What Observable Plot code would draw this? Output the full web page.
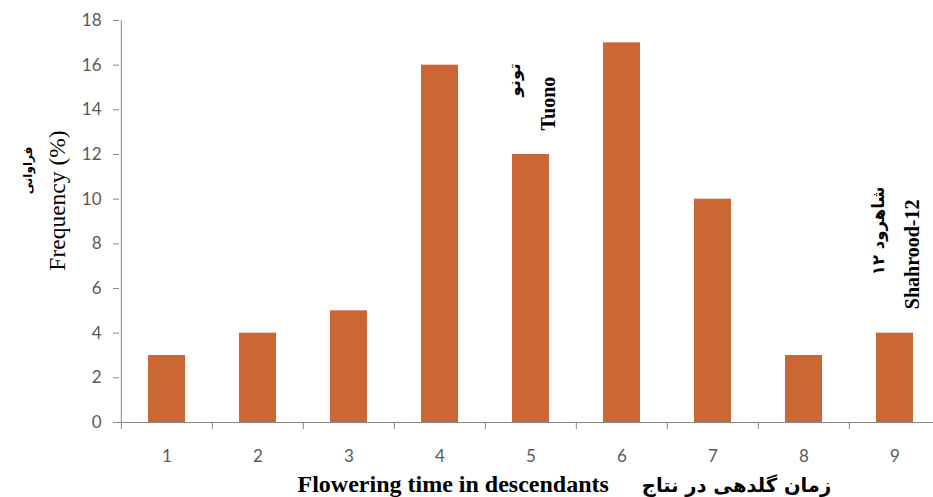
<!DOCTYPE html>
<html>
<head>
<meta charset="utf-8">
<script src="https://cdn.jsdelivr.net/npm/d3@7"></script>
<script src="https://cdn.jsdelivr.net/npm/@observablehq/plot@0.6"></script>
<style>
  html, body { margin: 0; padding: 0; background: #fff; overflow: hidden; }
  #chart { width: 933px; height: 497px; overflow: hidden; }
  #chart svg { max-width: none !important; width: 941px !important; height: 497px !important; }
</style>
</head>
<body>
<div id="chart"></div>
<script>
// ---- data ----
const categories = [1, 2, 3, 4, 5, 6, 7, 8, 9];
const frequency = [3, 4, 5, 16, 12, 17, 10, 3, 4];
const yTicks = [0, 2, 4, 6, 8, 10, 12, 14, 16, 18];
const annotationCategories = [5, 9];
const annotationEnglish = ["Tuono", "Shahrood-12"];
const annotationPersian = ["تونو", "شاهرود ۱۲"];
const yTitle = "Frequency (%)";
const yTitlePersian = "فراوانی";
const xTitle = "Flowering time in descendants";
const xTitlePersian = "زمان گلدهی در نتاج";

const bars = categories.map((c, i) => ({category: c, value: frequency[i]}));
const annot = annotationCategories.map((c, i) => ({
  category: c,
  value: frequency[categories.indexOf(c)],
  en: annotationEnglish[i],
  fa: annotationPersian[i]
}));

const W = 941, H = 497, ML = 119, MT = 20, MB = 75;
const step = (W - ML) / categories.length;
const axisColor = "#868686";
const labelColor = "#595959";
const tickFont = "Lato, 'Open Sans', sans-serif";
const serif = "'Liberation Serif', 'DejaVu Serif', serif";
const arabic = "'DejaVu Sans', sans-serif";

const chart = Plot.plot({
  width: W,
  height: H,
  marginLeft: ML,
  marginRight: 0,
  marginTop: MT,
  marginBottom: MB,
  style: {background: "#fff", overflow: "visible"},
  x: {type: "band", domain: categories, paddingInner: 0.595, paddingOuter: 0.2975, align: 0.5},
  y: {domain: [0, 18]},
  marks: [
    Plot.barY(bars, {x: "category", y: "value", fill: "#cb6635"}),
    // y axis line
    Plot.ruleX([categories[0]], {stroke: axisColor, dx: -step / 2}),
    // x axis line
    Plot.ruleY([0], {stroke: axisColor}),
    Plot.axisY({ticks: yTicks, tickSize: 6, tickPadding: 12, stroke: axisColor, fill: labelColor,
      fontSize: 17, fontFamily: tickFont, label: null}),
    // category boundary ticks
    Plot.axisX({tickSize: 7, tickFormat: () => "", stroke: axisColor, dx: -step / 2, label: null}),
    // category labels
    Plot.axisX({tickSize: 0, tickPadding: 27, fill: labelColor, fontSize: 17, fontFamily: tickFont, label: null}),
    // annotations
    Plot.text(annot, {x: "category", y: "value", text: "en", rotate: -90, textAnchor: "start",
      lineAnchor: "middle", dx: 18, dy: -24, fontSize: 20, fontWeight: "bold", fontFamily: serif, fill: "#000"}),
    Plot.text(annot, {x: "category", y: "value", text: "fa", rotate: -90, textAnchor: "start",
      lineAnchor: "middle", dx: -16, dy: -58, fontSize: 16.5, fontWeight: "bold",
      fontFamily: arabic, fill: "#000"}),
    // axis titles
    Plot.text([yTitle], {frameAnchor: "left", rotate: -90, textAnchor: "middle", dx: -62, dy: -21, fontSize: 23.5,
      fontFamily: serif, fill: "#000", lineAnchor: "middle"}),
    Plot.text([yTitlePersian], {frameAnchor: "left", rotate: -90, textAnchor: "middle", dx: -91, dy: -51, fontSize: 12,
      fontWeight: "bold", fontFamily: arabic, fill: "#000", lineAnchor: "middle"}),
    Plot.text([xTitle], {frameAnchor: "bottom", textAnchor: "start", dx: -233, dy: 62, fontSize: 24,
      fontWeight: "bold", fontFamily: serif, fill: "#000", lineAnchor: "middle"}),
    Plot.text([xTitlePersian], {frameAnchor: "bottom", textAnchor: "middle", dx: 206, dy: 63, fontSize: 19.5,
      fontWeight: "bold", fontFamily: arabic, fill: "#000", lineAnchor: "middle"})
  ]
});
document.getElementById("chart").appendChild(chart);
</script>
</body>
</html>
